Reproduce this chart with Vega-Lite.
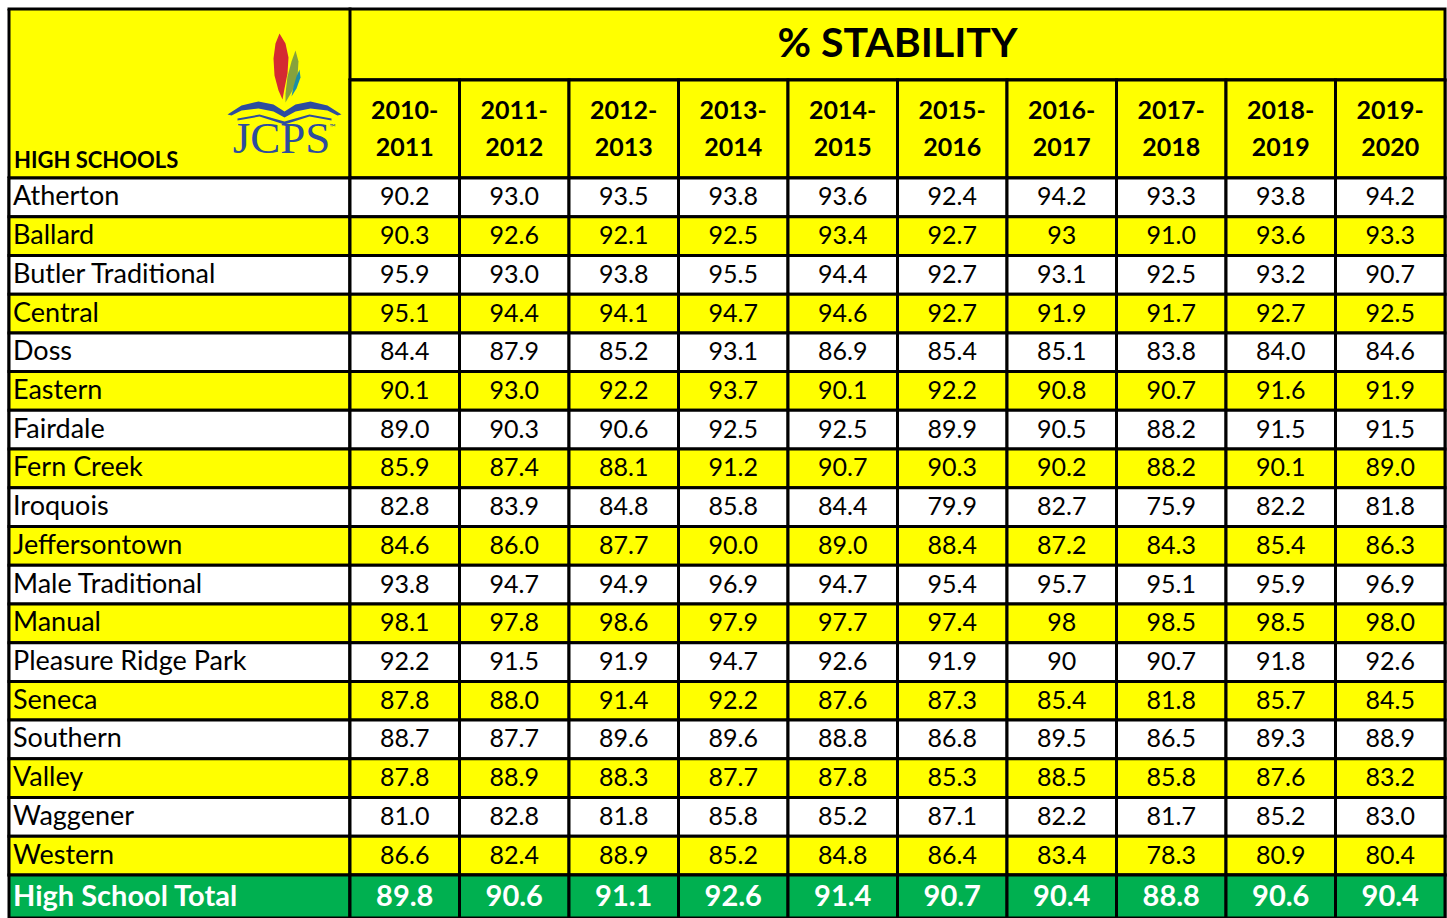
{
  "$schema": "https://vega.github.io/schema/vega-lite/v6.json",
  "padding": {"left": 6, "top": 6, "right": 2, "bottom": 0},
  "background": "white",
  "columns": 2,
  "spacing": 0,
  "bounds": "flush",
  "config": {"view": {"stroke": "black", "strokeWidth": 3}, "font": "Lato", "concat": {"spacing": 0}},
  "datasets": {
    "years": [
      {"year": "2010-2011"}, {"year": "2011-2012"}, {"year": "2012-2013"}, {"year": "2013-2014"}, {"year": "2014-2015"},
      {"year": "2015-2016"}, {"year": "2016-2017"}, {"year": "2017-2018"}, {"year": "2018-2019"}, {"year": "2019-2020"}
    ],
    "schools": [
      {"school": "Atherton"}, {"school": "Ballard"}, {"school": "Butler Traditional"}, {"school": "Central"}, {"school": "Doss"},
      {"school": "Eastern"}, {"school": "Fairdale"}, {"school": "Fern Creek"}, {"school": "Iroquois"}, {"school": "Jeffersontown"},
      {"school": "Male Traditional"}, {"school": "Manual"}, {"school": "Pleasure Ridge Park"}, {"school": "Seneca"}, {"school": "Southern"},
      {"school": "Valley"}, {"school": "Waggener"}, {"school": "Western"}, {"school": "High School Total"}
    ],
    "cells": [
      {"school": "Atherton", "year": "2010-2011", "value": "90.2"}, {"school": "Atherton", "year": "2011-2012", "value": "93.0"}, {"school": "Atherton", "year": "2012-2013", "value": "93.5"}, {"school": "Atherton", "year": "2013-2014", "value": "93.8"}, {"school": "Atherton", "year": "2014-2015", "value": "93.6"}, {"school": "Atherton", "year": "2015-2016", "value": "92.4"}, {"school": "Atherton", "year": "2016-2017", "value": "94.2"}, {"school": "Atherton", "year": "2017-2018", "value": "93.3"}, {"school": "Atherton", "year": "2018-2019", "value": "93.8"}, {"school": "Atherton", "year": "2019-2020", "value": "94.2"},
      {"school": "Ballard", "year": "2010-2011", "value": "90.3"}, {"school": "Ballard", "year": "2011-2012", "value": "92.6"}, {"school": "Ballard", "year": "2012-2013", "value": "92.1"}, {"school": "Ballard", "year": "2013-2014", "value": "92.5"}, {"school": "Ballard", "year": "2014-2015", "value": "93.4"}, {"school": "Ballard", "year": "2015-2016", "value": "92.7"}, {"school": "Ballard", "year": "2016-2017", "value": "93"}, {"school": "Ballard", "year": "2017-2018", "value": "91.0"}, {"school": "Ballard", "year": "2018-2019", "value": "93.6"}, {"school": "Ballard", "year": "2019-2020", "value": "93.3"},
      {"school": "Butler Traditional", "year": "2010-2011", "value": "95.9"}, {"school": "Butler Traditional", "year": "2011-2012", "value": "93.0"}, {"school": "Butler Traditional", "year": "2012-2013", "value": "93.8"}, {"school": "Butler Traditional", "year": "2013-2014", "value": "95.5"}, {"school": "Butler Traditional", "year": "2014-2015", "value": "94.4"}, {"school": "Butler Traditional", "year": "2015-2016", "value": "92.7"}, {"school": "Butler Traditional", "year": "2016-2017", "value": "93.1"}, {"school": "Butler Traditional", "year": "2017-2018", "value": "92.5"}, {"school": "Butler Traditional", "year": "2018-2019", "value": "93.2"}, {"school": "Butler Traditional", "year": "2019-2020", "value": "90.7"},
      {"school": "Central", "year": "2010-2011", "value": "95.1"}, {"school": "Central", "year": "2011-2012", "value": "94.4"}, {"school": "Central", "year": "2012-2013", "value": "94.1"}, {"school": "Central", "year": "2013-2014", "value": "94.7"}, {"school": "Central", "year": "2014-2015", "value": "94.6"}, {"school": "Central", "year": "2015-2016", "value": "92.7"}, {"school": "Central", "year": "2016-2017", "value": "91.9"}, {"school": "Central", "year": "2017-2018", "value": "91.7"}, {"school": "Central", "year": "2018-2019", "value": "92.7"}, {"school": "Central", "year": "2019-2020", "value": "92.5"},
      {"school": "Doss", "year": "2010-2011", "value": "84.4"}, {"school": "Doss", "year": "2011-2012", "value": "87.9"}, {"school": "Doss", "year": "2012-2013", "value": "85.2"}, {"school": "Doss", "year": "2013-2014", "value": "93.1"}, {"school": "Doss", "year": "2014-2015", "value": "86.9"}, {"school": "Doss", "year": "2015-2016", "value": "85.4"}, {"school": "Doss", "year": "2016-2017", "value": "85.1"}, {"school": "Doss", "year": "2017-2018", "value": "83.8"}, {"school": "Doss", "year": "2018-2019", "value": "84.0"}, {"school": "Doss", "year": "2019-2020", "value": "84.6"},
      {"school": "Eastern", "year": "2010-2011", "value": "90.1"}, {"school": "Eastern", "year": "2011-2012", "value": "93.0"}, {"school": "Eastern", "year": "2012-2013", "value": "92.2"}, {"school": "Eastern", "year": "2013-2014", "value": "93.7"}, {"school": "Eastern", "year": "2014-2015", "value": "90.1"}, {"school": "Eastern", "year": "2015-2016", "value": "92.2"}, {"school": "Eastern", "year": "2016-2017", "value": "90.8"}, {"school": "Eastern", "year": "2017-2018", "value": "90.7"}, {"school": "Eastern", "year": "2018-2019", "value": "91.6"}, {"school": "Eastern", "year": "2019-2020", "value": "91.9"},
      {"school": "Fairdale", "year": "2010-2011", "value": "89.0"}, {"school": "Fairdale", "year": "2011-2012", "value": "90.3"}, {"school": "Fairdale", "year": "2012-2013", "value": "90.6"}, {"school": "Fairdale", "year": "2013-2014", "value": "92.5"}, {"school": "Fairdale", "year": "2014-2015", "value": "92.5"}, {"school": "Fairdale", "year": "2015-2016", "value": "89.9"}, {"school": "Fairdale", "year": "2016-2017", "value": "90.5"}, {"school": "Fairdale", "year": "2017-2018", "value": "88.2"}, {"school": "Fairdale", "year": "2018-2019", "value": "91.5"}, {"school": "Fairdale", "year": "2019-2020", "value": "91.5"},
      {"school": "Fern Creek", "year": "2010-2011", "value": "85.9"}, {"school": "Fern Creek", "year": "2011-2012", "value": "87.4"}, {"school": "Fern Creek", "year": "2012-2013", "value": "88.1"}, {"school": "Fern Creek", "year": "2013-2014", "value": "91.2"}, {"school": "Fern Creek", "year": "2014-2015", "value": "90.7"}, {"school": "Fern Creek", "year": "2015-2016", "value": "90.3"}, {"school": "Fern Creek", "year": "2016-2017", "value": "90.2"}, {"school": "Fern Creek", "year": "2017-2018", "value": "88.2"}, {"school": "Fern Creek", "year": "2018-2019", "value": "90.1"}, {"school": "Fern Creek", "year": "2019-2020", "value": "89.0"},
      {"school": "Iroquois", "year": "2010-2011", "value": "82.8"}, {"school": "Iroquois", "year": "2011-2012", "value": "83.9"}, {"school": "Iroquois", "year": "2012-2013", "value": "84.8"}, {"school": "Iroquois", "year": "2013-2014", "value": "85.8"}, {"school": "Iroquois", "year": "2014-2015", "value": "84.4"}, {"school": "Iroquois", "year": "2015-2016", "value": "79.9"}, {"school": "Iroquois", "year": "2016-2017", "value": "82.7"}, {"school": "Iroquois", "year": "2017-2018", "value": "75.9"}, {"school": "Iroquois", "year": "2018-2019", "value": "82.2"}, {"school": "Iroquois", "year": "2019-2020", "value": "81.8"},
      {"school": "Jeffersontown", "year": "2010-2011", "value": "84.6"}, {"school": "Jeffersontown", "year": "2011-2012", "value": "86.0"}, {"school": "Jeffersontown", "year": "2012-2013", "value": "87.7"}, {"school": "Jeffersontown", "year": "2013-2014", "value": "90.0"}, {"school": "Jeffersontown", "year": "2014-2015", "value": "89.0"}, {"school": "Jeffersontown", "year": "2015-2016", "value": "88.4"}, {"school": "Jeffersontown", "year": "2016-2017", "value": "87.2"}, {"school": "Jeffersontown", "year": "2017-2018", "value": "84.3"}, {"school": "Jeffersontown", "year": "2018-2019", "value": "85.4"}, {"school": "Jeffersontown", "year": "2019-2020", "value": "86.3"},
      {"school": "Male Traditional", "year": "2010-2011", "value": "93.8"}, {"school": "Male Traditional", "year": "2011-2012", "value": "94.7"}, {"school": "Male Traditional", "year": "2012-2013", "value": "94.9"}, {"school": "Male Traditional", "year": "2013-2014", "value": "96.9"}, {"school": "Male Traditional", "year": "2014-2015", "value": "94.7"}, {"school": "Male Traditional", "year": "2015-2016", "value": "95.4"}, {"school": "Male Traditional", "year": "2016-2017", "value": "95.7"}, {"school": "Male Traditional", "year": "2017-2018", "value": "95.1"}, {"school": "Male Traditional", "year": "2018-2019", "value": "95.9"}, {"school": "Male Traditional", "year": "2019-2020", "value": "96.9"},
      {"school": "Manual", "year": "2010-2011", "value": "98.1"}, {"school": "Manual", "year": "2011-2012", "value": "97.8"}, {"school": "Manual", "year": "2012-2013", "value": "98.6"}, {"school": "Manual", "year": "2013-2014", "value": "97.9"}, {"school": "Manual", "year": "2014-2015", "value": "97.7"}, {"school": "Manual", "year": "2015-2016", "value": "97.4"}, {"school": "Manual", "year": "2016-2017", "value": "98"}, {"school": "Manual", "year": "2017-2018", "value": "98.5"}, {"school": "Manual", "year": "2018-2019", "value": "98.5"}, {"school": "Manual", "year": "2019-2020", "value": "98.0"},
      {"school": "Pleasure Ridge Park", "year": "2010-2011", "value": "92.2"}, {"school": "Pleasure Ridge Park", "year": "2011-2012", "value": "91.5"}, {"school": "Pleasure Ridge Park", "year": "2012-2013", "value": "91.9"}, {"school": "Pleasure Ridge Park", "year": "2013-2014", "value": "94.7"}, {"school": "Pleasure Ridge Park", "year": "2014-2015", "value": "92.6"}, {"school": "Pleasure Ridge Park", "year": "2015-2016", "value": "91.9"}, {"school": "Pleasure Ridge Park", "year": "2016-2017", "value": "90"}, {"school": "Pleasure Ridge Park", "year": "2017-2018", "value": "90.7"}, {"school": "Pleasure Ridge Park", "year": "2018-2019", "value": "91.8"}, {"school": "Pleasure Ridge Park", "year": "2019-2020", "value": "92.6"},
      {"school": "Seneca", "year": "2010-2011", "value": "87.8"}, {"school": "Seneca", "year": "2011-2012", "value": "88.0"}, {"school": "Seneca", "year": "2012-2013", "value": "91.4"}, {"school": "Seneca", "year": "2013-2014", "value": "92.2"}, {"school": "Seneca", "year": "2014-2015", "value": "87.6"}, {"school": "Seneca", "year": "2015-2016", "value": "87.3"}, {"school": "Seneca", "year": "2016-2017", "value": "85.4"}, {"school": "Seneca", "year": "2017-2018", "value": "81.8"}, {"school": "Seneca", "year": "2018-2019", "value": "85.7"}, {"school": "Seneca", "year": "2019-2020", "value": "84.5"},
      {"school": "Southern", "year": "2010-2011", "value": "88.7"}, {"school": "Southern", "year": "2011-2012", "value": "87.7"}, {"school": "Southern", "year": "2012-2013", "value": "89.6"}, {"school": "Southern", "year": "2013-2014", "value": "89.6"}, {"school": "Southern", "year": "2014-2015", "value": "88.8"}, {"school": "Southern", "year": "2015-2016", "value": "86.8"}, {"school": "Southern", "year": "2016-2017", "value": "89.5"}, {"school": "Southern", "year": "2017-2018", "value": "86.5"}, {"school": "Southern", "year": "2018-2019", "value": "89.3"}, {"school": "Southern", "year": "2019-2020", "value": "88.9"},
      {"school": "Valley", "year": "2010-2011", "value": "87.8"}, {"school": "Valley", "year": "2011-2012", "value": "88.9"}, {"school": "Valley", "year": "2012-2013", "value": "88.3"}, {"school": "Valley", "year": "2013-2014", "value": "87.7"}, {"school": "Valley", "year": "2014-2015", "value": "87.8"}, {"school": "Valley", "year": "2015-2016", "value": "85.3"}, {"school": "Valley", "year": "2016-2017", "value": "88.5"}, {"school": "Valley", "year": "2017-2018", "value": "85.8"}, {"school": "Valley", "year": "2018-2019", "value": "87.6"}, {"school": "Valley", "year": "2019-2020", "value": "83.2"},
      {"school": "Waggener", "year": "2010-2011", "value": "81.0"}, {"school": "Waggener", "year": "2011-2012", "value": "82.8"}, {"school": "Waggener", "year": "2012-2013", "value": "81.8"}, {"school": "Waggener", "year": "2013-2014", "value": "85.8"}, {"school": "Waggener", "year": "2014-2015", "value": "85.2"}, {"school": "Waggener", "year": "2015-2016", "value": "87.1"}, {"school": "Waggener", "year": "2016-2017", "value": "82.2"}, {"school": "Waggener", "year": "2017-2018", "value": "81.7"}, {"school": "Waggener", "year": "2018-2019", "value": "85.2"}, {"school": "Waggener", "year": "2019-2020", "value": "83.0"},
      {"school": "Western", "year": "2010-2011", "value": "86.6"}, {"school": "Western", "year": "2011-2012", "value": "82.4"}, {"school": "Western", "year": "2012-2013", "value": "88.9"}, {"school": "Western", "year": "2013-2014", "value": "85.2"}, {"school": "Western", "year": "2014-2015", "value": "84.8"}, {"school": "Western", "year": "2015-2016", "value": "86.4"}, {"school": "Western", "year": "2016-2017", "value": "83.4"}, {"school": "Western", "year": "2017-2018", "value": "78.3"}, {"school": "Western", "year": "2018-2019", "value": "80.9"}, {"school": "Western", "year": "2019-2020", "value": "80.4"},
      {"school": "High School Total", "year": "2010-2011", "value": "89.8"}, {"school": "High School Total", "year": "2011-2012", "value": "90.6"}, {"school": "High School Total", "year": "2012-2013", "value": "91.1"}, {"school": "High School Total", "year": "2013-2014", "value": "92.6"}, {"school": "High School Total", "year": "2014-2015", "value": "91.4"}, {"school": "High School Total", "year": "2015-2016", "value": "90.7"}, {"school": "High School Total", "year": "2016-2017", "value": "90.4"}, {"school": "High School Total", "year": "2017-2018", "value": "88.8"}, {"school": "High School Total", "year": "2018-2019", "value": "90.6"}, {"school": "High School Total", "year": "2019-2020", "value": "90.4"}
    ]
  },
  "concat": [
    {
      "width": 341,
      "height": 71,
      "view": {"fill": "#FFFF00", "stroke": null},
      "data": {"values": [{"edge": "frame"}]},
      "layer": [
        {
          "mark": {"type": "rule", "color": "black", "strokeWidth": 3},
          "encoding": {
            "x": {"datum": 0, "type": "quantitative", "scale": {"domain": [0, 1]}, "axis": null},
            "y": {"datum": 0, "type": "quantitative", "scale": {"domain": [0, 1]}, "axis": null},
            "y2": {"datum": 1}
          }
        },
        {
          "mark": {"type": "rule", "color": "black", "strokeWidth": 3, "strokeCap": "square"},
          "encoding": {
            "x": {"datum": 0, "type": "quantitative"},
            "x2": {"datum": 1},
            "y": {"datum": 1, "type": "quantitative"}
          }
        }
      ]
    },
    {
      "width": 1095,
      "height": 71,
      "view": {"fill": "#FFFF00", "stroke": "black", "strokeWidth": 3},
      "data": {"values": [{"title": "% STABILITY"}]},
      "mark": {"type": "text", "fontSize": 41, "fontWeight": "bold", "color": "black", "baseline": "middle"},
      "encoding": {"text": {"field": "title"}}
    },
    {
      "width": 341,
      "height": 98,
      "view": {"fill": "#FFFF00", "stroke": null},
      "layer": [
        {
          "data": {"values": [{"edge": "frame"}]},
          "mark": {"type": "rule", "color": "black", "strokeWidth": 3},
          "encoding": {
            "x": {"datum": 0, "type": "quantitative", "scale": {"domain": [0, 1]}, "axis": null},
            "y": {"datum": 0, "type": "quantitative", "scale": {"domain": [0, 1]}, "axis": null},
            "y2": {"datum": 1}
          }
        },
        {
          "data": {"values": [{"part": "red"}, {"part": "green"}, {"part": "teal"}, {"part": "book"}]},
          "mark": {"type": "point", "filled": true, "opacity": 1, "size": 40000, "strokeWidth": 0},
          "encoding": {
            "shape": {"field": "part", "type": "nominal", "legend": null, "scale": {"domain": ["red", "green", "teal", "book"], "range": [
              "M1.00,-0.955 L1.06,-0.855 L1.09,-0.715 L1.08,-0.555 L1.05,-0.405 L1.03,-0.295 L0.99,-0.385 L0.95,-0.535 L0.94,-0.705 L0.96,-0.855 Z",
              "M1.16,-0.785 L1.19,-0.675 L1.18,-0.525 L1.13,-0.385 L1.06,-0.265 L1.06,-0.355 L1.08,-0.525 L1.12,-0.675 Z",
              "M1.20,-0.595 L1.21,-0.515 L1.17,-0.405 L1.12,-0.325 L1.14,-0.425 L1.17,-0.525 Z",
              "M0.48,-0.145 L0.62,-0.235 L0.79,-0.275 L0.94,-0.245 L1.05,-0.175 L1.16,-0.245 L1.31,-0.275 L1.48,-0.235 L1.62,-0.145 L1.58,-0.135 L1.48,-0.185 L1.31,-0.205 L1.16,-0.175 L1.05,-0.115 L0.94,-0.175 L0.79,-0.205 L0.62,-0.185 L0.52,-0.135 Z M0.58,-0.105 L0.80,-0.145 L1.05,-0.075 L1.30,-0.145 L1.52,-0.105 L1.52,-0.085 L1.30,-0.125 L1.05,-0.045 L0.80,-0.125 L0.58,-0.085 Z"
            ]}},
            "color": {"field": "part", "type": "nominal", "legend": null, "scale": {"domain": ["red", "green", "teal", "book"], "range": ["#D42A32", "#86A23C", "#1A8DA6", "#2D4C9E"]}}
          }
        },
        {
          "data": {"values": [{"logo": "JCPS"}]},
          "mark": {"type": "text", "font": "Liberation Serif", "fontSize": 45, "color": "#2D4C9E", "align": "center", "baseline": "alphabetic", "dx": 102, "dy": 23.5},
          "encoding": {"text": {"field": "logo"}}
        },
        {
          "data": {"values": [{"logo": "™"}]},
          "mark": {"type": "text", "fontSize": 8, "color": "#2D4C9E", "align": "center", "baseline": "alphabetic", "dx": 153, "dy": 0.5},
          "encoding": {"text": {"field": "logo"}}
        },
        {
          "data": {"values": [{"label": "HIGH SCHOOLS"}]},
          "mark": {"type": "text", "fontSize": 22, "fontWeight": "bold", "color": "black", "align": "left", "baseline": "alphabetic", "dx": 5, "dy": -10},
          "encoding": {
            "x": {"datum": 0, "type": "quantitative"},
            "y": {"datum": 0, "type": "quantitative"},
            "text": {"field": "label"}
          }
        }
      ]
    },
    {
      "width": 1095,
      "height": 98,
      "view": {"fill": "#FFFF00", "stroke": "black", "strokeWidth": 3},
      "data": {"name": "years"},
      "layer": [
        {
          "mark": {"type": "rect", "fill": "#FFFF00", "stroke": "black", "strokeWidth": 3},
          "encoding": {
            "x": {"field": "year", "type": "ordinal", "axis": null, "scale": {"domain": ["2010-2011", "2011-2012", "2012-2013", "2013-2014", "2014-2015", "2015-2016", "2016-2017", "2017-2018", "2018-2019", "2019-2020"], "paddingInner": 0, "paddingOuter": 0}}
          }
        },
        {
          "mark": {"type": "text", "fontSize": 25, "fontWeight": "bold", "color": "black", "baseline": "middle", "lineHeight": 37, "dy": -18, "text": {"expr": "[slice(datum.year, 0, 5), slice(datum.year, 5)]"}},
          "encoding": {
            "x": {"field": "year", "type": "ordinal", "axis": null}
          }
        }
      ]
    },
    {
      "width": 341,
      "height": 697,
      "data": {"name": "schools"},
      "transform": [{"filter": "datum.school !== 'High School Total'"}],
      "layer": [
        {
          "mark": {"type": "rect", "stroke": "black", "strokeWidth": 3},
          "encoding": {
            "y": {"field": "school", "type": "nominal", "axis": null, "scale": {"domain": ["Atherton", "Ballard", "Butler Traditional", "Central", "Doss", "Eastern", "Fairdale", "Fern Creek", "Iroquois", "Jeffersontown", "Male Traditional", "Manual", "Pleasure Ridge Park", "Seneca", "Southern", "Valley", "Waggener", "Western"], "paddingInner": 0, "paddingOuter": 0}},
            "fill": {"field": "school", "type": "nominal", "legend": null, "scale": {"domain": ["Atherton", "Ballard", "Butler Traditional", "Central", "Doss", "Eastern", "Fairdale", "Fern Creek", "Iroquois", "Jeffersontown", "Male Traditional", "Manual", "Pleasure Ridge Park", "Seneca", "Southern", "Valley", "Waggener", "Western"], "range": ["#FFFFFF", "#FFFF00", "#FFFFFF", "#FFFF00", "#FFFFFF", "#FFFF00", "#FFFFFF", "#FFFF00", "#FFFFFF", "#FFFF00", "#FFFFFF", "#FFFF00", "#FFFFFF", "#FFFF00", "#FFFFFF", "#FFFF00", "#FFFFFF", "#FFFF00"]}}
          }
        },
        {
          "mark": {"type": "text", "fontSize": 27, "color": "black", "align": "left", "baseline": "middle", "dx": 4},
          "encoding": {
            "x": {"datum": 0, "type": "quantitative", "scale": {"domain": [0, 1]}, "axis": null},
            "y": {"field": "school", "type": "nominal", "axis": null},
            "text": {"field": "school"}
          }
        }
      ]
    },
    {
      "width": 1095,
      "height": 697,
      "data": {"name": "cells"},
      "transform": [{"filter": "datum.school !== 'High School Total'"}],
      "layer": [
        {
          "mark": {"type": "rect", "stroke": "black", "strokeWidth": 3},
          "encoding": {
            "x": {"field": "year", "type": "ordinal", "axis": null, "scale": {"domain": ["2010-2011", "2011-2012", "2012-2013", "2013-2014", "2014-2015", "2015-2016", "2016-2017", "2017-2018", "2018-2019", "2019-2020"], "paddingInner": 0, "paddingOuter": 0}},
            "y": {"field": "school", "type": "nominal", "axis": null, "scale": {"domain": ["Atherton", "Ballard", "Butler Traditional", "Central", "Doss", "Eastern", "Fairdale", "Fern Creek", "Iroquois", "Jeffersontown", "Male Traditional", "Manual", "Pleasure Ridge Park", "Seneca", "Southern", "Valley", "Waggener", "Western"], "paddingInner": 0, "paddingOuter": 0}},
            "fill": {"field": "school", "type": "nominal", "legend": null, "scale": {"domain": ["Atherton", "Ballard", "Butler Traditional", "Central", "Doss", "Eastern", "Fairdale", "Fern Creek", "Iroquois", "Jeffersontown", "Male Traditional", "Manual", "Pleasure Ridge Park", "Seneca", "Southern", "Valley", "Waggener", "Western"], "range": ["#FFFFFF", "#FFFF00", "#FFFFFF", "#FFFF00", "#FFFFFF", "#FFFF00", "#FFFFFF", "#FFFF00", "#FFFFFF", "#FFFF00", "#FFFFFF", "#FFFF00", "#FFFFFF", "#FFFF00", "#FFFFFF", "#FFFF00", "#FFFFFF", "#FFFF00"]}}
          }
        },
        {
          "mark": {"type": "text", "fontSize": 25, "color": "black", "baseline": "middle"},
          "encoding": {
            "x": {"field": "year", "type": "ordinal", "axis": null},
            "y": {"field": "school", "type": "nominal", "axis": null},
            "text": {"field": "value"}
          }
        }
      ]
    },
    {
      "width": 341,
      "height": 43,
      "view": {"fill": "#00B050", "stroke": "black", "strokeWidth": 3},
      "data": {"name": "schools"},
      "transform": [{"filter": "datum.school === 'High School Total'"}],
      "mark": {"type": "text", "fontSize": 29, "fontWeight": "bold", "color": "white", "align": "left", "baseline": "middle", "dx": 4},
      "encoding": {
        "x": {"datum": 0, "type": "quantitative", "scale": {"domain": [0, 1]}, "axis": null},
        "text": {"field": "school"}
      }
    },
    {
      "width": 1095,
      "height": 43,
      "view": {"fill": "#00B050", "stroke": "black", "strokeWidth": 3},
      "data": {"name": "cells"},
      "transform": [{"filter": "datum.school === 'High School Total'"}],
      "layer": [
        {
          "mark": {"type": "rect", "fill": "#00B050", "stroke": "black", "strokeWidth": 3},
          "encoding": {
            "x": {"field": "year", "type": "ordinal", "axis": null, "scale": {"domain": ["2010-2011", "2011-2012", "2012-2013", "2013-2014", "2014-2015", "2015-2016", "2016-2017", "2017-2018", "2018-2019", "2019-2020"], "paddingInner": 0, "paddingOuter": 0}}
          }
        },
        {
          "mark": {"type": "text", "fontSize": 29, "fontWeight": "bold", "color": "white", "baseline": "middle"},
          "encoding": {
            "x": {"field": "year", "type": "ordinal", "axis": null},
            "text": {"field": "value"}
          }
        }
      ]
    }
  ]
}
